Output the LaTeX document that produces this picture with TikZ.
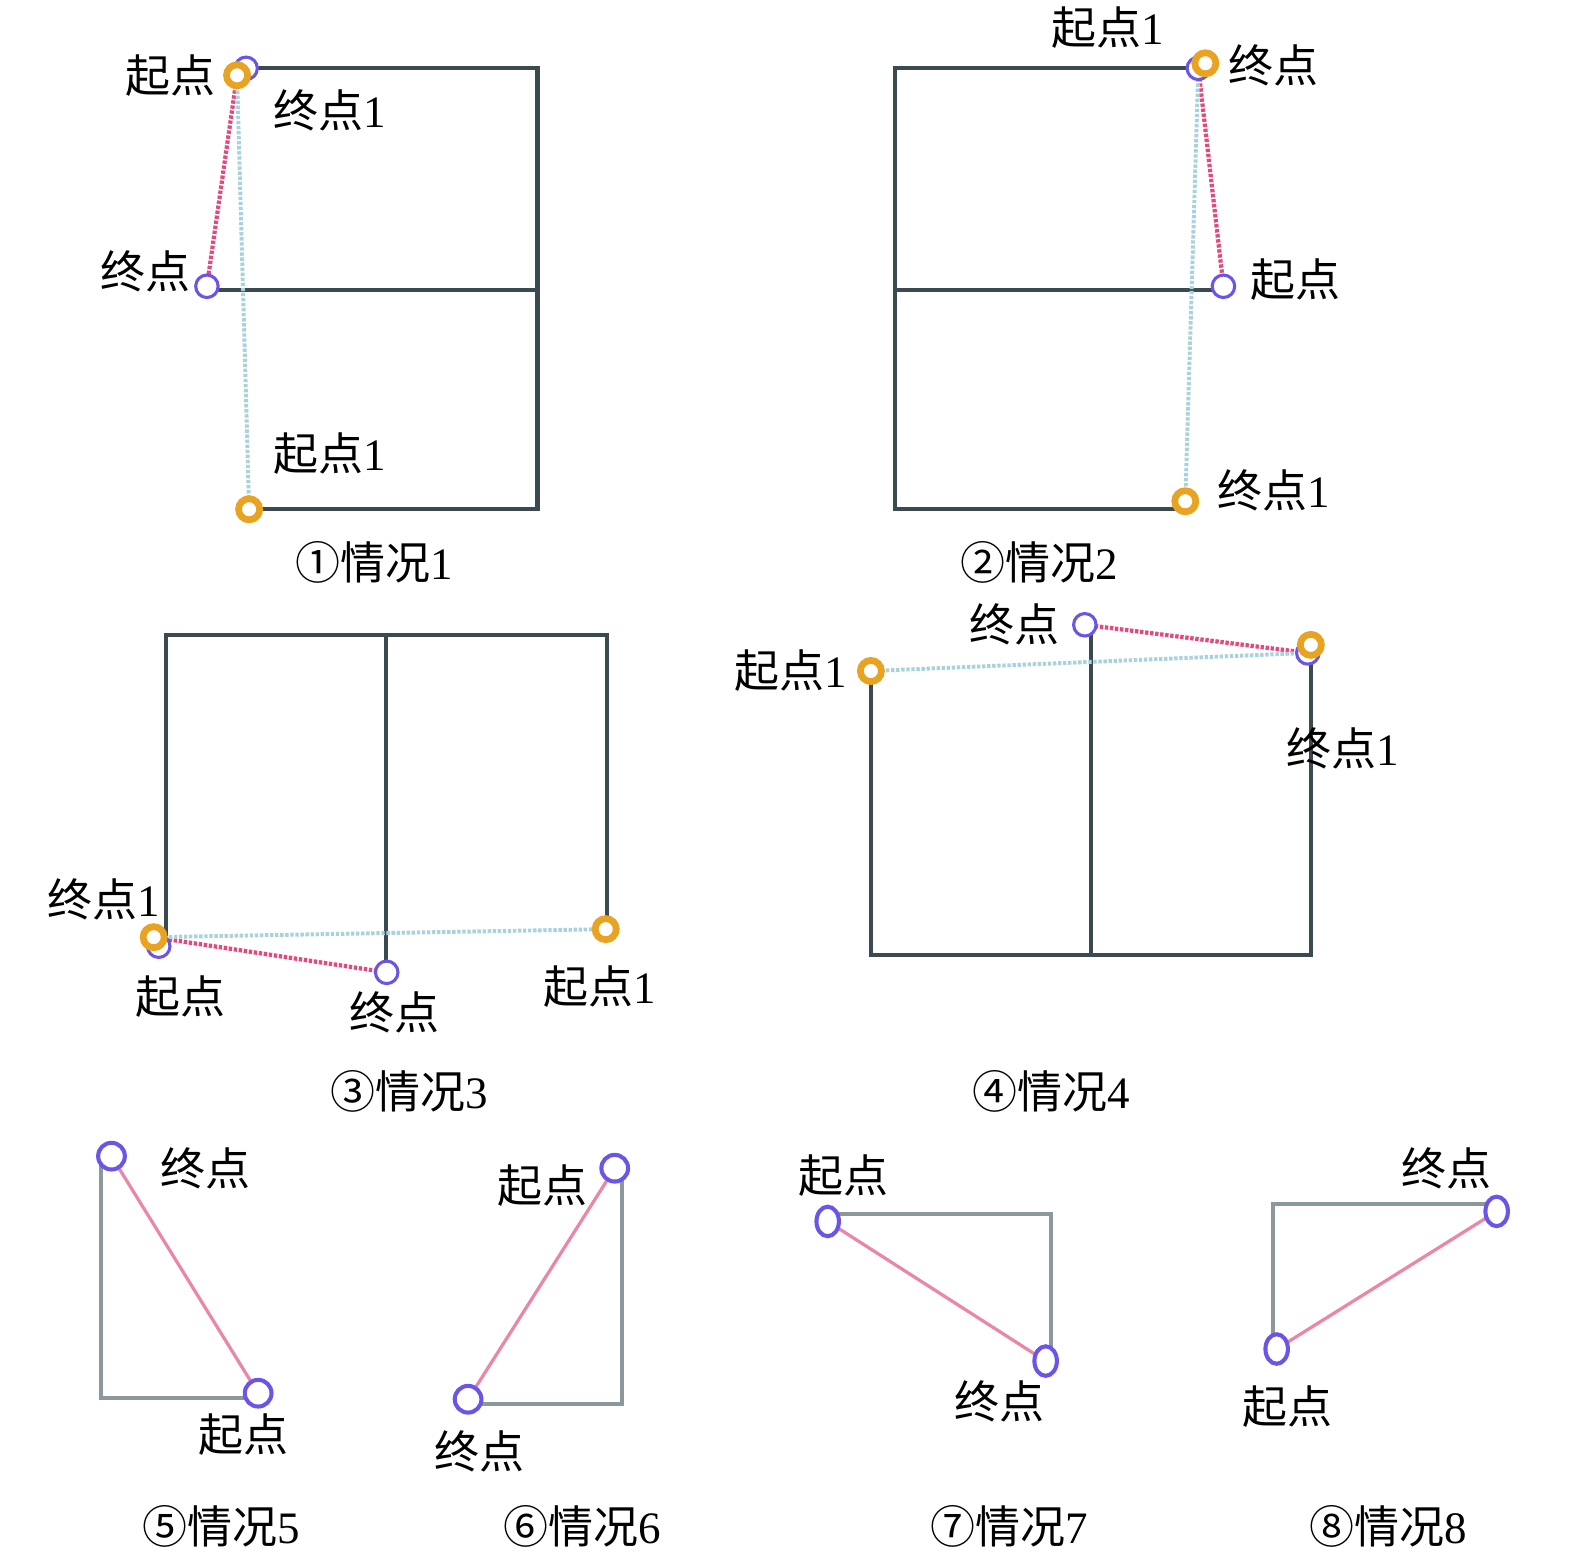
\documentclass[tikz,border=0pt]{standalone}
\usepackage{fontspec}
\setmainfont{Liberation Serif}
\newfontfamily\cjk{Noto Sans CJK SC}
\usetikzlibrary{shapes.geometric}
\definecolor{wallc}{HTML}{3B4A50}
\definecolor{wallg}{HTML}{8C999C}
\definecolor{orng}{HTML}{E8A322}
\definecolor{purp}{HTML}{6B55E6}
\definecolor{pinkc}{HTML}{E2497E}
\definecolor{pinkl}{HTML}{EA86A8}
\definecolor{bluec}{HTML}{A9D2DD}
\pgfdeclarelayer{bg}
\pgfsetlayers{bg,main}
\begin{document}
\begin{tikzpicture}[x=0.025112cm,y=-0.025112cm,
  wall/.style={draw=wallc, line width=3.1pt},
  wallL/.style={draw=wallg, line width=2.9pt},
  opt/.style={circle, draw=orng, line width=4.8pt, fill=white, minimum size=15pt, inner sep=0},
  ppt/.style={circle, draw=purp, line width=2.2pt, fill=white, minimum size=16pt, inner sep=0},
  pptb/.style={circle, draw=purp, line width=2.9pt, fill=white, minimum size=19pt, inner sep=0},
  ppte/.style={ellipse, draw=purp, line width=2.9pt, fill=white, minimum width=16pt, minimum height=21pt, inner sep=0},
  lbl/.style={font=\fontsize{32}{38}\selectfont, inner sep=0},
  pinkd/.style={draw=pinkc, line width=3pt, dash pattern=on 2.4pt off 1.2pt},
  blued/.style={draw=bluec, line width=2.8pt, dash pattern=on 2.4pt off 1.2pt},
  pinks/.style={draw=pinkl, line width=2.3pt}]
\useasboundingbox (0,0) rectangle (1568,1556);

% ---------- Panel 1 ----------
\node[ppt] (a1) at (245,68) {};
\node[opt] (a2) at (236,75) {};
\node[ppt] (a3) at (206,285) {};
\node[opt] (a4) at (248,507) {};
\begin{pgfonlayer}{bg}
\draw[wall] (245,68) -- (535,68) -- (535,507) -- (248,507);
\draw[wall] (206,289) -- (535,289);
\draw[pinkd] (a2.center) -- (a3.center);
\draw[blued] (a2.center) -- (a4.center);
\end{pgfonlayer}
\node[lbl] (la1) at (170,75) {\cjk 起点};
\node[lbl] (la2) at (328,110) {{\cjk 终点}1};
\node[lbl] (la3) at (145,270) {\cjk 终点};
\node[lbl] (la4) at (328,452) {{\cjk 起点}1};
\node[lbl] (ca) at (373,560) {{\cjk ①情况}1};

% ---------- Panel 2 ----------
\node[ppt] (b1) at (1193,68) {};
\node[opt] (b2) at (1200,63) {};
\node[ppt] (b3) at (1218,285) {};
\node[opt] (b4) at (1180,499) {};
\begin{pgfonlayer}{bg}
\draw[wall] (1193,68) -- (891,68) -- (891,507) -- (1180,507);
\draw[wall] (891,289) -- (1218,289);
\draw[pinkd] (b1.center) -- (b3.center);
\draw[blued] (b1.center) -- (b4.center);
\end{pgfonlayer}
\node[lbl] (lb1) at (1103,27) {{\cjk 起点}1};
\node[lbl] (lb2) at (1268,65) {\cjk 终点};
\node[lbl] (lb3) at (1290,278) {\cjk 起点};
\node[lbl] (lb4) at (1268,488) {{\cjk 终点}1};
\node[lbl] (cb) at (1035,560) {{\cjk ②情况}2};

% ---------- Panel 3 ----------
\node[ppt] (c1) at (158,942) {};
\node[opt] (c2) at (153,933) {};
\node[ppt] (c3) at (385,968) {};
\node[opt] (c4) at (603,925) {};
\begin{pgfonlayer}{bg}
\draw[wall] (165,932) -- (165,632) -- (604,632) -- (604,925);
\draw[wall] (384,632) -- (384,965);
\draw[pinkd] (c2.center) -- (c3.center);
\draw[blued] (c2.center) -- (c4.center);
\end{pgfonlayer}
\node[lbl] (lc1) at (103,895) {{\cjk 终点}1};
\node[lbl] (lc2) at (180,992) {\cjk 起点};
\node[lbl] (lc3) at (393,1008) {\cjk 终点};
\node[lbl] (lc4) at (597,982) {{\cjk 起点}1};
\node[lbl] (cc) at (407,1087) {{\cjk ③情况}3};

% ---------- Panel 4 ----------
\node[opt] (d1) at (867,668) {};
\node[ppt] (d2) at (1080,622) {};
\node[ppt] (d3) at (1302,650) {};
\node[opt] (d4) at (1305,642) {};
\begin{pgfonlayer}{bg}
\draw[wall] (867,668) -- (867,951) -- (1305,951) -- (1305,648);
\draw[wall] (1086,622) -- (1086,951);
\draw[pinkd] (d2.center) -- (d3.center);
\draw[blued] (d1.center) -- (d3.center);
\end{pgfonlayer}
\node[lbl] (ld1) at (787,668) {{\cjk 起点}1};
\node[lbl] (ld2) at (1010,622) {\cjk 终点};
\node[lbl] (ld3) at (1337,745) {{\cjk 终点}1};
\node[lbl] (cd) at (1047,1087) {{\cjk ④情况}4};

% ---------- Panel 5 ----------
\node[pptb] (e1) at (111,1151) {};
\node[pptb] (e2) at (257,1387) {};
\begin{pgfonlayer}{bg}
\draw[wallL] (101,1150) -- (101,1392) -- (250,1392);
\draw[pinks] (e1.center) -- (e2.center);
\end{pgfonlayer}
\node[lbl] (le1) at (205,1163) {\cjk 终点};
\node[lbl] (le2) at (242,1428) {\cjk 起点};
\node[lbl] (ce) at (220,1520) {{\cjk ⑤情况}5};

% ---------- Panel 6 ----------
\node[pptb] (f1) at (612,1163) {};
\node[pptb] (f2) at (466,1393) {};
\begin{pgfonlayer}{bg}
\draw[wallL] (619,1170) -- (619,1398) -- (470,1398);
\draw[pinks] (f1.center) -- (f2.center);
\end{pgfonlayer}
\node[lbl] (lf1) at (540,1180) {\cjk 起点};
\node[lbl] (lf2) at (477,1445) {\cjk 终点};
\node[lbl] (cf) at (580,1520) {{\cjk ⑥情况}6};

% ---------- Panel 7 ----------
\node[ppte] (g1) at (824,1216) {};
\node[ppte] (g2) at (1041,1355) {};
\begin{pgfonlayer}{bg}
\draw[wallL] (830,1209) -- (1046,1209) -- (1046,1350);
\draw[pinks] (g1.center) -- (g2.center);
\end{pgfonlayer}
\node[lbl] (lg1) at (840,1170) {\cjk 起点};
\node[lbl] (lg2) at (995,1395) {\cjk 终点};
\node[lbl] (cg) at (1005,1520) {{\cjk ⑦情况}7};

% ---------- Panel 8 ----------
\node[ppte] (h1) at (1490,1206) {};
\node[ppte] (h2) at (1271,1343) {};
\begin{pgfonlayer}{bg}
\draw[wallL] (1490,1199) -- (1267,1199) -- (1267,1340);
\draw[pinks] (h1.center) -- (h2.center);
\end{pgfonlayer}
\node[lbl] (lh1) at (1440,1163) {\cjk 终点};
\node[lbl] (lh2) at (1282,1400) {\cjk 起点};
\node[lbl] (ch) at (1382,1520) {{\cjk ⑧情况}8};
\end{tikzpicture}
\end{document}
